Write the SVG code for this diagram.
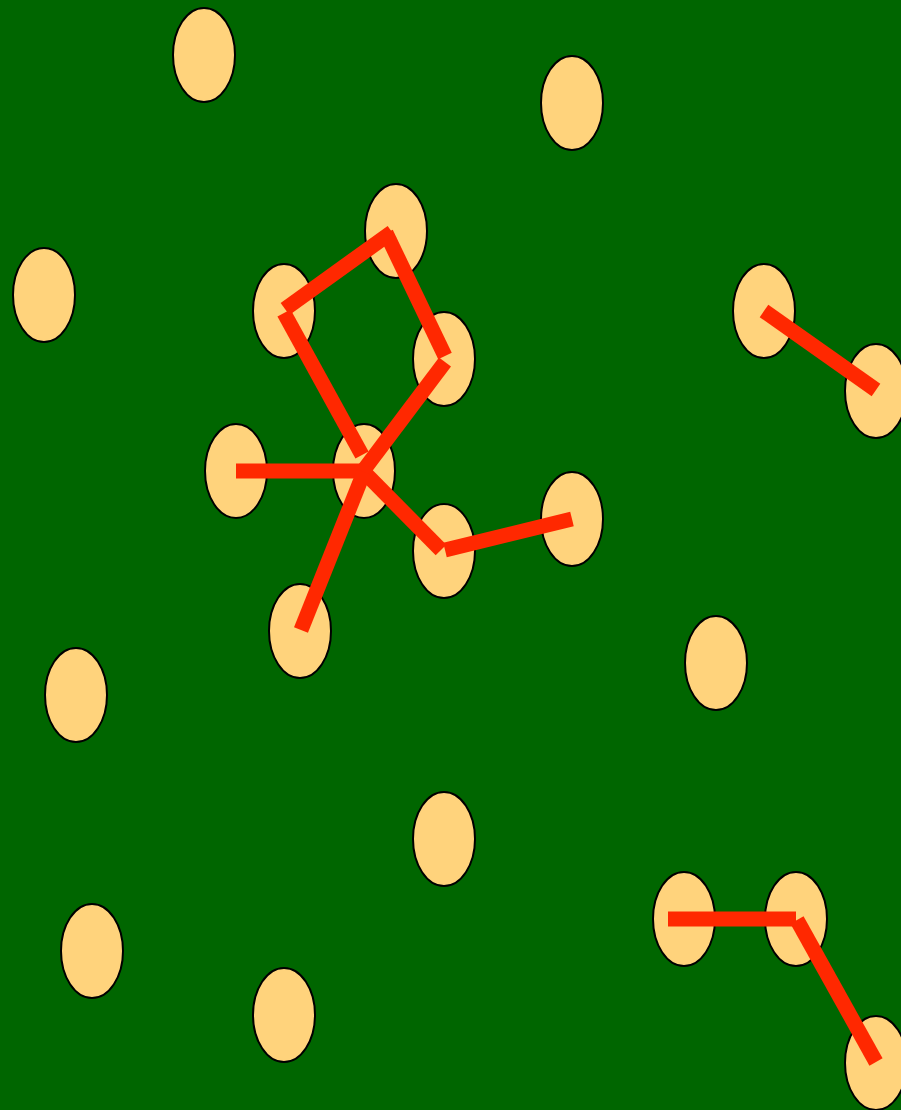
<svg xmlns="http://www.w3.org/2000/svg" width="901" height="1110" viewBox="0 0 901 1110">
<style>
.n{fill:#ffd37c;stroke:#000;stroke-width:2}
.e{stroke:#ff2800;stroke-width:15;stroke-linecap:butt;fill:none}
</style>
<rect width="901" height="1110" fill="#006600"/>
<g id="nodes">
<g id="n1"><ellipse class="n" cx="204" cy="55" rx="31" ry="47"/></g>
<g id="n2"><ellipse class="n" cx="572" cy="103" rx="31" ry="47"/></g>
<g id="n3"><ellipse class="n" cx="396" cy="231" rx="31" ry="47"/></g>
<g id="n4"><ellipse class="n" cx="44" cy="295" rx="31" ry="47"/></g>
<g id="n5"><ellipse class="n" cx="284" cy="311" rx="31" ry="47"/></g>
<g id="n6"><ellipse class="n" cx="764" cy="311" rx="31" ry="47"/></g>
<g id="n7"><ellipse class="n" cx="444" cy="359" rx="31" ry="47"/></g>
<g id="n8"><ellipse class="n" cx="876" cy="391" rx="31" ry="47"/></g>
<g id="n9"><ellipse class="n" cx="236" cy="471" rx="31" ry="47"/></g>
<g id="n10"><ellipse class="n" cx="364" cy="471" rx="31" ry="47"/></g>
<g id="n11"><ellipse class="n" cx="572" cy="519" rx="31" ry="47"/></g>
<g id="n12"><ellipse class="n" cx="444" cy="551" rx="31" ry="47"/></g>
<g id="n13"><ellipse class="n" cx="300" cy="631" rx="31" ry="47"/></g>
<g id="n14"><ellipse class="n" cx="716" cy="663" rx="31" ry="47"/></g>
<g id="n15"><ellipse class="n" cx="76" cy="695" rx="31" ry="47"/></g>
<g id="n16"><ellipse class="n" cx="444" cy="839" rx="31" ry="47"/></g>
<g id="n17"><ellipse class="n" cx="684" cy="919" rx="31" ry="47"/></g>
<g id="n18"><ellipse class="n" cx="796" cy="919" rx="31" ry="47"/></g>
<g id="n19"><ellipse class="n" cx="92" cy="951" rx="31" ry="47"/></g>
<g id="n20"><ellipse class="n" cx="284" cy="1015" rx="31" ry="47"/></g>
<g id="n21"><ellipse class="n" cx="876" cy="1063" rx="31" ry="47"/></g>
</g>
<g id="connectors">
<line class="e" x1="285" y1="309" x2="392" y2="232"/>
<line class="e" x1="386" y1="233" x2="445" y2="356"/>
<line class="e" x1="284" y1="313" x2="362" y2="455"/>
<line class="e" x1="445" y1="362" x2="363" y2="471"/>
<line class="e" x1="236" y1="471" x2="364" y2="471"/>
<line class="e" x1="363" y1="471" x2="441" y2="550"/>
<line class="e" x1="445" y1="550" x2="572" y2="519"/>
<line class="e" x1="364" y1="472" x2="301" y2="630"/>
<line class="e" x1="764" y1="311" x2="876" y2="390"/>
<line class="e" x1="668" y1="919" x2="796" y2="919"/>
<line class="e" x1="797" y1="920" x2="876" y2="1062"/>
</g>
</svg>
